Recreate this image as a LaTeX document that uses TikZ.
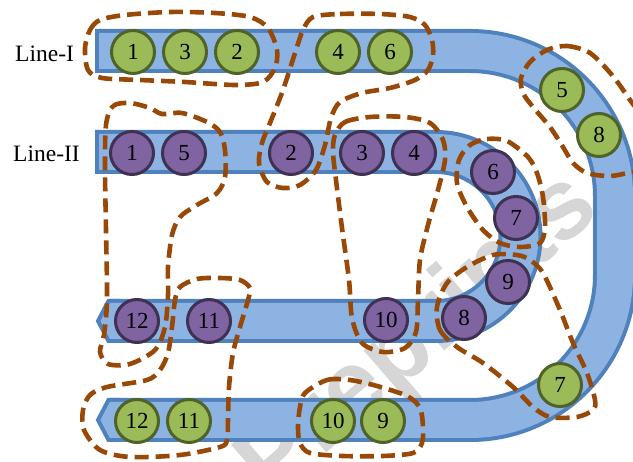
\documentclass[tikz,border=0pt]{standalone}
\usepackage{fontspec}
\setmainfont{Liberation Serif}
\newfontfamily\markfont{Liberation Sans}

\definecolor{tubeedge}{HTML}{4F81BD}
\definecolor{tubefill}{HTML}{8DB3E2}
\definecolor{greenfill}{HTML}{9BBB59}
\definecolor{greenedge}{HTML}{4F6228}
\definecolor{purplefill}{HTML}{8064A2}
\definecolor{purpleedge}{HTML}{3F3151}
\definecolor{groupline}{HTML}{984807}
\definecolor{markgray}{HTML}{D6D6D6}

\tikzset{
  tubeouter/.style={draw=tubeedge, line width=44pt},
  tubeinner/.style={draw=tubefill, line width=36pt},
  tubetip/.style={fill=tubefill, draw=tubeedge, line width=4pt, line join=miter},
  station/.style={circle, minimum size=43pt, inner sep=0pt, line width=3pt,
    font=\fontsize{23}{23}\selectfont},
  gstop/.style={station, fill=greenfill, draw=greenedge},
  pstop/.style={station, fill=purplefill, draw=purpleedge},
  grouping/.style={draw=groupline, line width=4.6pt, dash pattern=on 14pt off 7pt},
  linelabel/.style={anchor=base west, inner sep=0pt, font=\fontsize{23.5}{23.5}\selectfont},
}

\begin{document}
\begin{tikzpicture}[x=1pt, y=-1pt]
\useasboundingbox (0,0) rectangle (633,462);
\clip (0,0) rectangle (633,462);

% watermark behind everything
\node[rotate=41, anchor=base east, inner sep=0pt, text=markgray,
      font=\markfont\bfseries\fontsize{100}{100}\selectfont] (mark) at (603,213) {Preprints};

% ---- Line-I track: top, big bend on the right, back along the bottom
\draw[tubetip] (98,420) -- (108.5,400) -- (118,400) -- (118,440) -- (108.5,440) -- cycle;
\draw[tubeouter] (95,51) -- (470,51) arc[start angle=-90, end angle=0, radius=145]
      -- (615,275) arc[start angle=0, end angle=90, radius=145] -- (110,420);
\draw[tubeinner] (99,51) -- (470,51) arc[start angle=-90, end angle=0, radius=145]
      -- (615,275) arc[start angle=0, end angle=90, radius=145] -- (110,420);

% ---- Line-II track: U-turn
\draw[tubetip] (98,321) -- (108.5,301) -- (118,301) -- (118,341) -- (108.5,341) -- cycle;
\draw[tubeouter] (95,152) -- (436,152) arc[start angle=-90, end angle=90, radius=84.5] -- (110,321);
\draw[tubeinner] (99,152) -- (436,152) arc[start angle=-90, end angle=90, radius=84.5] -- (110,321);

% labels
\node[linelabel] (lineI) at (15,62) {Line-I};
\node[linelabel] (lineII) at (13,162) {Line-II};

% ---- Line-I stations
\node[gstop] (g1) at (133,52) {1};
\node[gstop] (g3) at (185,52) {3};
\node[gstop] (g2) at (237,52) {2};
\node[gstop] (g4) at (338,52) {4};
\node[gstop] (g6) at (390,52) {6};
\node[gstop] (g5) at (562,90) {5};
\node[gstop] (g8) at (599,135) {8};
\node[gstop] (g7) at (560,385) {7};
\node[gstop] (g9) at (383,421) {9};
\node[gstop] (g10) at (333,421) {10};
\node[gstop] (g11) at (189,421) {11};
\node[gstop] (g12) at (137,421) {12};

% ---- Line-II stations
\node[pstop] (p1) at (132,153) {1};
\node[pstop] (p5) at (184,153) {5};
\node[pstop] (p2) at (291,153) {2};
\node[pstop] (p3) at (362,153) {3};
\node[pstop] (p4) at (414,153) {4};
\node[pstop] (p6) at (493,172) {6};
\node[pstop] (p7) at (516,218) {7};
\node[pstop] (p9) at (508,282) {9};
\node[pstop] (p8) at (464,318) {8};
\node[pstop] (p10) at (386,320) {10};
\node[pstop] (p11) at (209,321) {11};
\node[pstop] (p12) at (137,321) {12};

% ---- dashed groupings
% {I-1, I-3, I-2}
\draw[grouping] plot[smooth cycle, tension=0.5] coordinates {
  (85,48) (90,30) (100,20) (125,15) (170,12) (215,13) (250,17) (268,28) (277,50)
  (275,68) (263,82) (235,85) (185,82) (140,80) (102,78) (88,70)};
% {I-4, I-6, II-2}
\draw[grouping] plot[smooth cycle, tension=0.5] coordinates {
  (313,17) (340,14) (380,14) (410,17) (425,25) (432,40) (433,55) (428,70) (415,80)
  (390,88) (362,93) (340,102) (331,118) (325,145) (316,170) (300,185) (283,188)
  (267,182) (259,163) (262,143) (270,123) (283,90) (296,50) (303,30)};
% {II-1, II-5, II-12}
\draw[grouping] plot[smooth cycle, tension=0.5] coordinates {
  (106,125) (113,106) (130,103) (150,108) (162,114) (182,113) (207,122) (220,132)
  (225,150) (225,177) (217,193) (197,205) (180,217) (172,235) (168,267) (168,295)
  (165,327) (155,350) (130,364) (108,364) (100,352) (104,335) (107,300) (106,230) (105,170)};
% {II-11, I-12, I-11}
\draw[grouping] plot[smooth cycle, tension=0.5] coordinates {
  (180,287) (197,279) (220,278) (240,280) (250,288) (248,300) (240,327) (233,353)
  (229,387) (228,420) (227,440) (220,447) (180,455) (130,457) (100,450) (84,430)
  (83,410) (90,395) (107,387) (147,380) (160,370) (168,353) (172,327) (175,300)};
% {II-3, II-4, II-10}
\draw[grouping] plot[smooth cycle, tension=0.5] coordinates {
  (335,135) (345,122) (370,117) (405,117) (430,123) (443,140) (445,160) (438,190)
  (428,225) (420,260) (418,300) (416,332) (405,348) (383,352) (362,343) (352,318)
  (349,280) (342,228) (336,180) (333,152)};
% {II-6, II-7}
\draw[grouping] plot[smooth cycle, tension=0.5] coordinates {
  (470,145) (487,139) (507,141) (528,157) (537,173) (543,197) (545,227) (540,243)
  (520,247) (500,243) (483,230) (467,207) (457,183) (459,160)};
% {II-9, II-8, I-7}
\draw[grouping] plot[smooth cycle, tension=0.5] coordinates {
  (437,307) (440,330) (457,347) (483,363) (513,387) (533,407) (550,417) (577,417)
  (593,410) (595,400) (587,373) (573,343) (560,310) (543,273) (530,260) (517,255)
  (493,255) (467,267) (447,283)};
% {I-5, I-8}
\draw[grouping] plot[smooth cycle, tension=0.5] coordinates {
  (547,50) (567,46) (590,53) (612,75) (630,100) (650,130) (650,170) (633,172)
  (610,176) (587,173) (573,163) (563,147) (550,127) (533,107) (523,93) (521,78) (530,62)};
% {I-10, I-9}
\draw[grouping] plot[smooth cycle, tension=0.5] coordinates {
  (305,393) (327,380) (350,380) (377,386) (407,396) (420,408) (423,427) (422,443)
  (413,453) (383,456) (343,456) (310,453) (300,443) (298,427) (300,407)};
\end{tikzpicture}
\end{document}
